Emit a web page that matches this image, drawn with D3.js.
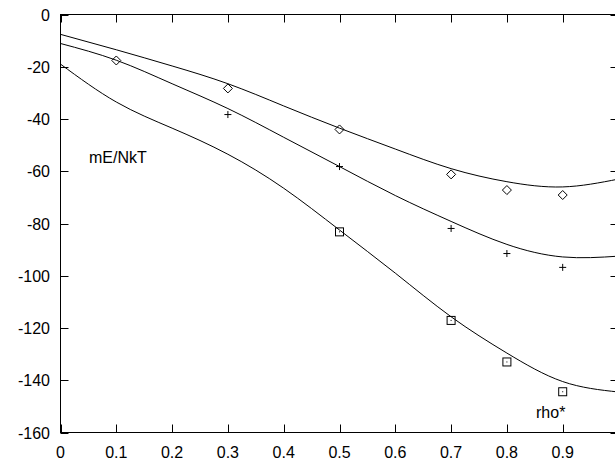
<!doctype html>
<html lang="">

<head>
    <title>mE/NkT vs rho*</title>
    <meta charset="utf-8">
    <style>
        body { margin: 0; background: #fff; }
        text { font-family: "Liberation Sans", Arial, sans-serif; font-size: 16px; fill: #000; }
    </style>
</head>

<body>
    <div id="chart"></div>

    <script src="https://cdnjs.cloudflare.com/ajax/libs/d3/7.8.5/d3.min.js"></script>

    <script>
        const width = 615;
        const height = 458;

        // fitted curves, read at each 0.1
        const curveX = [0, 0.1, 0.2, 0.3, 0.4, 0.5, 0.6, 0.7, 0.8, 0.9, 1.0];
        const curveTop = [-7.6, -13.5, -19.7, -26.5, -35, -43.5, -51.5, -59, -64, -66, -63];
        const curveMid = [-11.1, -17.5, -26.5, -36, -47, -58.2, -69.3, -79.2, -88, -92.8, -92.5];
        const curveLow = [-19, -33.5, -43.5, -53.5, -66.5, -82.5, -99, -115.7, -129.6, -140.5, -144.5];

        // simulation points
        const diamondX = [0.1, 0.3, 0.5, 0.7, 0.8, 0.9];
        const diamondY = [-17.6, -28.3, -44.0, -61.2, -67.2, -69.1];
        const plusX = [0.3, 0.5, 0.7, 0.8, 0.9];
        const plusY = [-38.3, -58.2, -81.9, -91.5, -96.8];
        const squareX = [0.5, 0.7, 0.8, 0.9];
        const squareY = [-83.2, -117.1, -133.0, -144.4];

        const xTicks = [0, 0.1, 0.2, 0.3, 0.4, 0.5, 0.6, 0.7, 0.8, 0.9];
        const yTicks = [0, -20, -40, -60, -80, -100, -120, -140, -160];

        const x = d3.scaleLinear().domain([0, 1]).range([60.5, 618.5]);
        const y = d3.scaleLinear().domain([-160, 0]).range([432.5, 14.5]);

        const svg = d3.select("#chart").append("svg").attr("width", width).attr("height", height);

        svg.append("defs").append("clipPath").attr("id", "plot")
            .append("rect")
            .attr("x", x(0)).attr("y", y(0))
            .attr("width", x(1) - x(0)).attr("height", y(-160) - y(0));

        // frame
        svg.append("rect")
            .attr("x", x(0)).attr("y", y(0))
            .attr("width", x(1) - x(0)).attr("height", y(-160) - y(0))
            .attr("fill", "none").attr("stroke", "#000").attr("stroke-width", 1);

        const tickLen = 8;
        const ticks = svg.append("g").attr("stroke", "#000").attr("stroke-width", 1);
        xTicks.forEach(t => {
            ticks.append("line").attr("x1", Math.round(x(t)) + 0.5).attr("x2", Math.round(x(t)) + 0.5)
                .attr("y1", y(-160)).attr("y2", y(-160) - tickLen);
            ticks.append("line").attr("x1", Math.round(x(t)) + 0.5).attr("x2", Math.round(x(t)) + 0.5)
                .attr("y1", y(0)).attr("y2", y(0) + tickLen);
        });
        yTicks.forEach(t => {
            ticks.append("line").attr("x1", x(0)).attr("x2", x(0) + tickLen)
                .attr("y1", Math.round(y(t)) + 0.5).attr("y2", Math.round(y(t)) + 0.5);
            ticks.append("line").attr("x1", x(1)).attr("x2", x(1) - tickLen)
                .attr("y1", Math.round(y(t)) + 0.5).attr("y2", Math.round(y(t)) + 0.5);
        });

        svg.append("g").selectAll("text").data(xTicks).join("text")
            .attr("x", d => x(d)).attr("y", 458)
            .attr("text-anchor", "middle")
            .text(d => d3.format("")(d));

        svg.append("g").selectAll("text").data(yTicks).join("text")
            .attr("x", 50).attr("y", d => y(d) + 6)
            .attr("text-anchor", "end")
            .text(d => d);

        // curves
        const line = d3.line().x(d => x(d[0])).y(d => y(d[1])).curve(d3.curveNatural);
        const curves = svg.append("g").attr("clip-path", "url(#plot)");
        [curveTop, curveMid, curveLow].forEach(vals => {
            curves.append("path")
                .attr("d", line(curveX.map((v, i) => [v, vals[i]])))
                .attr("fill", "none").attr("stroke", "#000").attr("stroke-width", 1);
        });

        // markers
        const marks = svg.append("g").attr("fill", "none").attr("stroke", "#000").attr("stroke-width", 1);
        diamondX.forEach((v, i) => {
            const cx = x(v), cy = y(diamondY[i]), r = 4.5;
            marks.append("path").attr("d", `M${cx},${cy - r}L${cx + r},${cy}L${cx},${cy + r}L${cx - r},${cy}Z`);
        });
        plusX.forEach((v, i) => {
            const cx = x(v), cy = y(plusY[i]), r = 3.5;
            marks.append("path").attr("d", `M${cx - r},${cy}H${cx + r}M${cx},${cy - r}V${cy + r}`);
        });
        squareX.forEach((v, i) => {
            const cx = x(v), cy = y(squareY[i]), r = 4;
            marks.append("rect").attr("x", cx - r).attr("y", cy - r).attr("width", 2 * r).attr("height", 2 * r);
            marks.append("rect").attr("x", cx - 0.5).attr("y", cy - 0.5).attr("width", 1).attr("height", 1)
                .attr("fill", "#000").attr("stroke", "none");
        });

        // labels
        svg.append("text").attr("x", 89).attr("y", 163).text("mE/NkT");
        svg.append("text").attr("x", 536).attr("y", 418).text("rho*");
    </script>
</body>

</html>
